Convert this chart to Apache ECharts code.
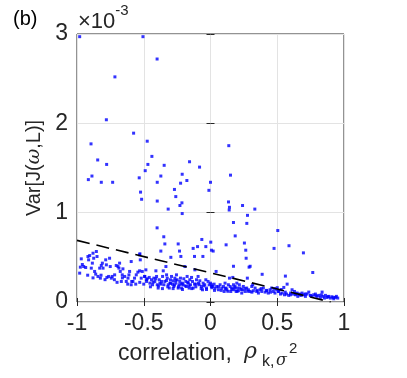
<!DOCTYPE html>
<html>
<head>
<meta charset="utf-8">
<script src="https://cdn.jsdelivr.net/npm/echarts@6/dist/echarts.min.js"></script>
<style>
  html, body { margin: 0; padding: 0; background: #fff; }
  #chart { width: 407px; height: 378px; }
</style>
</head>
<body>
<div id="chart"></div>
<script>
// values in units of 1e-3
const corr = [
  // sparse upper points
  -0.98, -0.506, -0.40, -0.716, -0.78, -0.576, -0.474, -0.895, -0.845, -0.778,
  -0.915, -0.888, -0.818, -0.733, -0.534, -0.524, -0.516, -0.489, -0.469, -0.399,
  -0.372, -0.439, -0.347, -0.399, -0.317, -0.40, -0.35, -0.342, -0.27, -0.26,
  -0.212, -0.224, -0.229, -0.214, -0.212, -0.177, -0.157, -0.082, -0.012, 0.0,
  0.137, 0.15, 0.135, 0.142, 0.14, 0.172, 0.185, 0.24, 0.277, 0.272,
  0.332, 0.504, 0.588, 0.696, 0.476, 0.766, 0.561, 0.387, 0.297, 0.289,
  0.254, 0.264, 0.267, 0.172, 0.117, -0.065, -0.035, 0.002, 0.007, 0.02,
  -0.097, -0.13, -0.12, -0.057, -0.242, -0.232, -0.222, -0.297, -0.372, -0.529,
  0.574,
  // dense band, left
  -0.968, -0.975, -0.980, -0.950, -0.935, -0.918, -0.913, -0.905, -0.880, -0.875,
  -0.885, -0.893, -0.855, -0.850, -0.868, -0.860, -0.843, -0.830, -0.825, -0.818,
  -0.810, -0.805, -0.785, -0.780, -0.776, -0.763, -0.756, -0.751, -0.743, -0.736,
  -0.718, -0.706, -0.693, -0.686, -0.681, -0.676, -0.668, -0.661, -0.656, -0.643,
  -0.631, -0.618, -0.611, -0.606, -0.594, -0.594, -0.581, -0.569, -0.556, -0.544,
  -0.531, -0.526, -0.531, -0.519, -0.511, -0.494,
  -0.96, -0.92, -0.88, -0.82, -0.79, -0.72, -0.70, -0.66, -0.62, -0.59,
  -0.56, -0.53, -0.50, -0.48,
  // dense band, middle left
  -0.484, -0.492, -0.479, -0.474, -0.459, -0.454, -0.442, -0.434, -0.424, -0.417,
  -0.409, -0.404, -0.399, -0.392, -0.384, -0.379, -0.367, -0.359, -0.354, -0.349,
  -0.342, -0.334, -0.329, -0.324, -0.317, -0.309, -0.304, -0.300, -0.292, -0.285,
  -0.280, -0.275, -0.267, -0.260, -0.255, -0.250, -0.242, -0.235, -0.230, -0.225,
  -0.217, -0.210, -0.205, -0.200, -0.192, -0.185, -0.180, -0.175, -0.167, -0.160,
  -0.155, -0.150, -0.142, -0.135, -0.130, -0.117, -0.110, -0.105, -0.093, -0.085,
  -0.080, -0.068, -0.060, -0.055, -0.043, -0.035, -0.030, -0.018, -0.010, 0.000,
  0.007,
  -0.45, -0.43, -0.41, -0.39, -0.37, -0.36, -0.33, -0.32, -0.30, -0.28,
  -0.27, -0.26, -0.24, -0.22, -0.21, -0.19, -0.17, -0.16, -0.14, -0.12,
  -0.11, -0.09, -0.07, -0.05, -0.03,
  // dense band, middle right
  0.009, 0.017, 0.027, 0.034, 0.042, 0.047, 0.059, 0.072, 0.084, 0.097,
  0.102, 0.109, 0.117, 0.122, 0.134, 0.142, 0.147, 0.152, 0.159, 0.167,
  0.172, 0.177, 0.184, 0.192, 0.197, 0.202, 0.209, 0.216, 0.221, 0.234,
  0.241, 0.246, 0.259, 0.271, 0.276, 0.284, 0.296, 0.309, 0.316, 0.321,
  0.334, 0.346, 0.359, 0.371, 0.384, 0.396, 0.409, 0.421, 0.433, 0.446,
  0.458, 0.471, 0.483, 0.496, 0.508,
  0.01, 0.03, 0.06, 0.08, 0.11, 0.13, 0.16, 0.18, 0.20, 0.23,
  0.26, 0.28, 0.31, 0.35, 0.38, 0.42, 0.45, 0.48, 0.50,
  // dense band, right
  0.511, 0.524, 0.536, 0.549, 0.554, 0.569, 0.586, 0.599, 0.611, 0.619,
  0.629, 0.636, 0.649, 0.654, 0.669, 0.679, 0.686, 0.699, 0.711, 0.723,
  0.736, 0.748, 0.761, 0.773, 0.786, 0.798, 0.811, 0.823, 0.836, 0.843,
  0.853, 0.861, 0.873, 0.886, 0.898, 0.910, 0.923, 0.935, 0.943, 0.953,
  0.53, 0.56, 0.60, 0.64, 0.67, 0.71, 0.75, 0.79, 0.83, 0.88,
  0.92
];
const variance = [
  2.97, 2.97, 2.72, 2.52, 2.04, 1.89, 1.80, 1.77, 1.59, 1.54,
  1.37, 1.41, 1.34, 1.34, 1.39, 1.23, 1.15, 1.47, 1.54, 1.34,
  1.41, 1.63, 1.53, 1.13, 1.04, 0.83, 0.73, 0.65, 1.26, 1.18,
  1.43, 1.33, 1.08, 1.11, 0.99, 1.36, 1.57, 1.51, 1.25, 1.34,
  1.75, 1.42, 1.12, 1.06, 1.03, 0.89, 0.74, 1.08, 0.97, 0.88,
  1.04, 0.80, 0.63, 0.55, 0.60, 0.33, 0.29, 0.31, 0.40, 0.39,
  0.66, 0.58, 0.49, 0.40, 0.64, 0.70, 0.62, 0.67, 0.58, 0.57,
  0.62, 0.60, 0.51, 0.51, 0.65, 0.57, 0.51, 0.50, 0.57, 0.54,
  0.200,
  0.483, 0.390, 0.323, 0.397, 0.386, 0.509, 0.472, 0.520, 0.546, 0.490,
  0.435, 0.379, 0.565, 0.509, 0.342, 0.312, 0.286, 0.379, 0.267, 0.409,
  0.435, 0.379, 0.472, 0.416, 0.275, 0.286, 0.490, 0.397, 0.267, 0.286,
  0.304, 0.409, 0.397, 0.379, 0.435, 0.342, 0.230, 0.304, 0.371, 0.286,
  0.230, 0.267, 0.304, 0.342, 0.453, 0.193, 0.230, 0.267, 0.304, 0.334,
  0.528, 0.472, 0.349, 0.267, 0.342, 0.286,
  0.42, 0.30, 0.27, 0.30, 0.25, 0.25, 0.22, 0.27, 0.20, 0.23,
  0.20, 0.22, 0.20, 0.25,
  0.360, 0.286, 0.230, 0.260, 0.275, 0.211, 0.249, 0.193, 0.267, 0.230,
  0.349, 0.286, 0.193, 0.156, 0.249, 0.211, 0.230, 0.286, 0.349, 0.193,
  0.230, 0.397, 0.304, 0.267, 0.193, 0.156, 0.211, 0.249, 0.286, 0.200,
  0.237, 0.174, 0.267, 0.211, 0.304, 0.249, 0.156, 0.193, 0.230, 0.267,
  0.156, 0.211, 0.193, 0.260, 0.397, 0.230, 0.174, 0.286, 0.211, 0.156,
  0.249, 0.193, 0.275, 0.230, 0.156, 0.360, 0.200, 0.249, 0.286, 0.193,
  0.237, 0.174, 0.137, 0.211, 0.193, 0.249, 0.156, 0.230, 0.193, 0.211,
  0.174,
  0.17, 0.22, 0.26, 0.18, 0.20, 0.15, 0.24, 0.17, 0.21, 0.15,
  0.19, 0.24, 0.17, 0.20, 0.14, 0.18, 0.22, 0.18, 0.15, 0.20,
  0.17, 0.21, 0.15, 0.18, 0.14,
  0.193, 0.174, 0.200, 0.156, 0.342, 0.174, 0.137, 0.193, 0.156, 0.174,
  0.118, 0.211, 0.156, 0.137, 0.193, 0.267, 0.174, 0.118, 0.156, 0.275,
  0.193, 0.137, 0.174, 0.118, 0.211, 0.156, 0.126, 0.193, 0.156, 0.100,
  0.137, 0.174, 0.118, 0.156, 0.267, 0.137, 0.118, 0.174, 0.193, 0.126,
  0.156, 0.118, 0.100, 0.137, 0.118, 0.156, 0.111, 0.126, 0.100, 0.137,
  0.156, 0.118, 0.100, 0.137, 0.118,
  0.16, 0.13, 0.17, 0.13, 0.15, 0.12, 0.14, 0.16, 0.12, 0.14,
  0.15, 0.12, 0.11, 0.13, 0.15, 0.13, 0.11, 0.15, 0.16,
  0.118, 0.089, 0.100, 0.163, 0.081, 0.089, 0.074, 0.081, 0.137, 0.089,
  0.118, 0.081, 0.100, 0.063, 0.089, 0.074, 0.100, 0.081, 0.063, 0.089,
  0.111, 0.074, 0.063, 0.081, 0.089, 0.063, 0.074, 0.051, 0.111, 0.063,
  0.044, 0.074, 0.051, 0.063, 0.044, 0.059, 0.036, 0.051, 0.063, 0.044,
  0.14, 0.11, 0.10, 0.09, 0.08, 0.09, 0.07, 0.07, 0.08, 0.06,
  0.05
];
// dashed bound
const boundX = [-1, 0.9];
const boundY = [0.69, 0];

const xTicks = [-1, -0.5, 0, 0.5, 1];
const yTicks = [0, 1, 2, 3];

const font = 'Liberation Sans, Arial, Helvetica, sans-serif';
const serif = 'DejaVu Serif, Liberation Serif, serif';
const ink = '#262626';

const chart = echarts.init(document.getElementById('chart'));

const option = {
  animation: false,
  grid: {
    left: 77, right: 63, top: 34, bottom: 76,
    show: true, borderColor: ink, borderWidth: 1
  },
  xAxis: [{
    type: 'value', min: -1, max: 1, interval: 0.5,
    axisLine: { show: false },
    axisTick: { inside: true, length: 4, lineStyle: { color: ink } },
    axisLabel: {
      margin: 10, fontSize: 23, color: ink, fontFamily: font,
      formatter: v => xTicks.includes(v) ? String(v) : ''
    },
    splitLine: { lineStyle: { color: '#e3e3e3', width: 1 } }
  }, {
    type: 'value', min: -1, max: 1, interval: 0.5, position: 'top',
    axisLine: { show: false },
    axisTick: { inside: true, length: 4, lineStyle: { color: ink } },
    axisLabel: { show: false },
    splitLine: { show: false }
  }],
  yAxis: [{
    type: 'value', min: 0, max: 3, interval: 1,
    axisLine: { show: false },
    axisTick: { inside: true, length: 4, lineStyle: { color: ink } },
    axisLabel: {
      margin: 9, fontSize: 23, color: ink, fontFamily: font,
      formatter: v => yTicks.includes(v) ? String(v) : ''
    },
    splitLine: { lineStyle: { color: '#e3e3e3', width: 1 } },
    name: '{a|Var[J(}{w|ω}{a|,L)]}',
    nameLocation: 'middle',
    nameGap: 30,
    nameTextStyle: {
      rich: {
        a: { fontSize: 20, fontFamily: font, color: ink },
        w: { fontSize: 19, fontFamily: serif, fontStyle: 'italic', color: ink }
      }
    }
  }, {
    type: 'value', min: 0, max: 3, interval: 1, position: 'right',
    axisLine: { show: false },
    axisTick: { inside: true, length: 4, lineStyle: { color: ink } },
    axisLabel: { show: false },
    splitLine: { show: false }
  }],
  graphic: [
    {
      type: 'text', left: 13, top: 9,
      style: { text: '(b)', fontSize: 20, fontFamily: font, fill: '#000' }
    },
    {
      type: 'text', left: 78, top: 3,
      style: {
        text: '{a|×10}{p|-3}',
        rich: {
          a: { fontSize: 22, fontFamily: font, fill: ink, lineHeight: 30, verticalAlign: 'bottom' },
          p: { fontSize: 15, fontFamily: font, fill: ink, lineHeight: 16, verticalAlign: 'top' }
        }
      }
    },
    // x-axis title: correlation, rho_{k,sigma^2}
    {
      type: 'text', left: 118, top: 342,
      style: { text: 'correlation,', fontSize: 23, fontFamily: font, fill: ink }
    },
    {
      type: 'text', left: 244, top: 341,
      style: { text: 'ρ', fontSize: 22, fontFamily: serif, fontStyle: 'italic', fill: ink }
    },
    {
      type: 'text', left: 262, top: 354,
      style: { text: 'k,', fontSize: 16, fontFamily: font, fill: ink }
    },
    {
      type: 'text', left: 276, top: 353,
      style: { text: 'σ', fontSize: 16, fontFamily: serif, fontStyle: 'italic', fill: ink }
    },
    {
      type: 'text', left: 289, top: 341,
      style: { text: '2', fontSize: 15, fontFamily: font, fill: ink }
    }
  ],
  series: [
    {
      type: 'scatter',
      data: corr.map((c, i) => [c, variance[i]]),
      symbol: 'rect',
      symbolSize: 3,
      itemStyle: { color: '#0000ff' },
      z: 3
    },
    {
      type: 'line',
      data: boundX.map((x, i) => [x, boundY[i]]),
      symbol: 'none',
      lineStyle: { color: '#000', width: 1.6, type: [13, 7] },
      z: 4
    }
  ]
};

chart.setOption(option);
</script>
</body>
</html>
